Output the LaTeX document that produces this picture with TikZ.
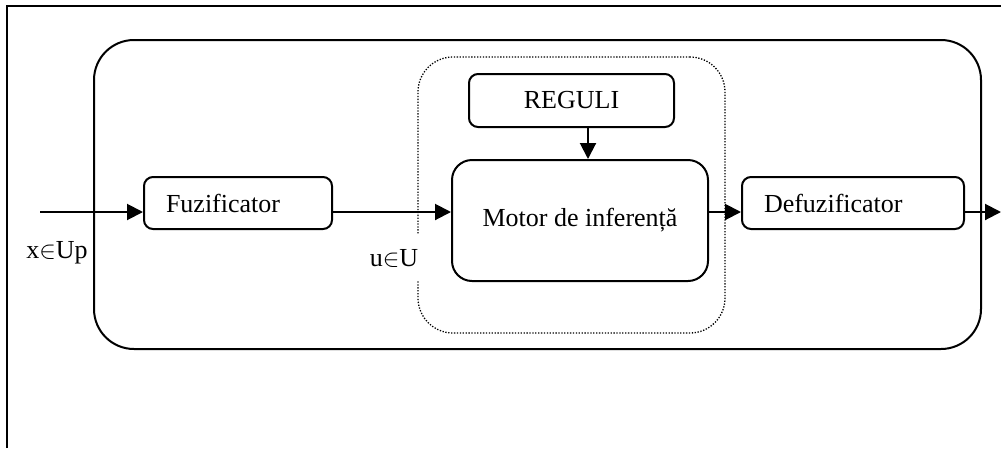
\documentclass[tikz,border=0pt]{standalone}
\usepackage{fontspec}
\setmainfont{Liberation Serif}
\usetikzlibrary{arrows.meta,calc}
\begin{document}
\begin{tikzpicture}[x=1pt,y=-1pt,
  every node/.style={font=\fontsize{26}{30}\selectfont},
  solid line/.style={line width=2pt},
  blockbox/.style={draw,line width=2pt,rounded corners=9pt,inner sep=0pt},
  leftbox/.style={blockbox,inner xsep=22pt,align=left},
  arr/.style={line width=2pt,-{Triangle[length=16pt,width=16pt]}},
  lbl/.style={inner sep=1pt}
]
\useasboundingbox (0,0) rectangle (1001,448);
% outer frame
\draw[solid line] (7,448) -- (7,6) -- (1001,6);
% big system box
\node[draw,line width=2pt,rounded corners=40pt,minimum width=887pt,minimum height=309pt] (sys) at (537.5,194.5) {};
% dotted inference region
\node[draw,line width=1.3pt,dash pattern=on 1.3pt off 1.6pt,rounded corners=35pt,minimum width=307pt,minimum height=276pt] (inf) at (571.5,195) {};
% blocks
\node[leftbox,text width=144pt,minimum height=52pt] (fuz) at (238,203) {Fuzificator};
\node[leftbox,text width=178pt,minimum height=52pt] (defuz) at (853,203) {Defuzificator};
\node[blockbox,rounded corners=20pt,minimum width=256pt,minimum height=121pt] (motor) at (580,220.5) {Motor de inferență};
\node[blockbox,minimum width=205pt,minimum height=53pt] (reguli) at (571.5,100.5) {REGULI};
% connectors
\coordinate (in) at (40,212);
\coordinate (out) at (1001,212);
\coordinate (ra) at (588,0);
\draw[arr] (in) -- (in -| fuz.west);
\draw[arr] (fuz.east |- in) -- (motor.west |- in);
\draw[arr] (motor.east |- in) -- (defuz.west |- in);
\draw[arr] (defuz.east |- in) -- (out);
\draw[arr] (reguli.south -| ra) -- (motor.north -| ra);
% labels
\node[lbl] (xl) at (57,253) {x$\in$Up};
\node[lbl,fill=white,inner ysep=14pt] (ul) at (394,258) {u$\in$U};
\end{tikzpicture}
\end{document}
